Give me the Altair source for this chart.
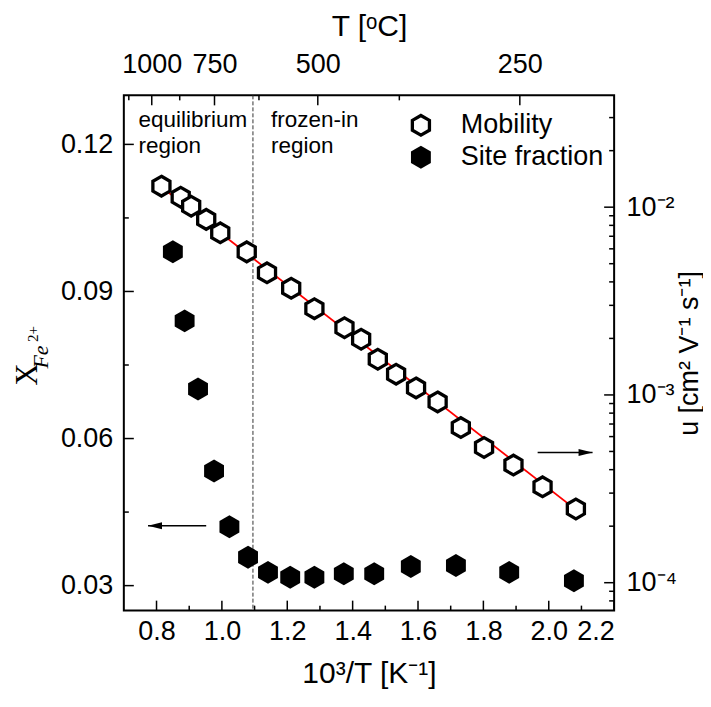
import altair as alt
import pandas as pd

FONT = "Liberation Sans"
SERIF = "Liberation Serif"
W, H = 491, 516

# ---- data ----
mob_x = [0.815, 0.874, 0.906, 0.952, 0.995, 1.076, 1.138, 1.212, 1.283, 1.375,
         1.426, 1.477, 1.533, 1.594, 1.660, 1.731, 1.802, 1.892, 1.981, 2.083]
mob_u = [0.01294, 0.01130, 0.01012, 0.00861, 0.00730, 0.00578, 0.00447, 0.00370,
         0.00288, 0.00228, 0.00198, 0.00155, 0.00129, 0.00109, 0.000918, 0.000670,
         0.000525, 0.000423, 0.000324, 0.000247]

sf_x = [0.850, 0.886, 0.927, 0.976, 1.023, 1.080, 1.141, 1.209, 1.283, 1.373,
        1.466, 1.578, 1.716, 1.879, 2.077]
sf_y = [0.0981, 0.0840, 0.0701, 0.0534, 0.0420, 0.0358, 0.0327, 0.0317, 0.0317,
        0.0324, 0.0324, 0.0339, 0.0341, 0.0327, 0.0310]

fit_x = [0.815, 2.083]
fit_u = [0.0128, 0.000245]

boundary_x = [1.095]

arrow_left_x = [0.952, 0.774]
arrow_left_y = 0.0422
arrow_right_x = [1.966, 2.134]
arrow_right_u = 4.93e-4

# tick labels / positions
x_major = [0.8, 1.0, 1.2, 1.4, 1.6, 1.8, 2.0, 2.2]
x_minor = [0.9, 1.1, 1.3, 1.5, 1.7, 1.9, 2.1]
yl_major = [0.03, 0.06, 0.09, 0.12]
yl_minor = [0.045, 0.075, 0.105]
yr_major = [1e-4, 1e-3, 1e-2]
yr_minor = [8e-5, 9e-5] + [m * 1e-4 for m in range(2, 10)] + \
           [m * 1e-3 for m in range(2, 10)] + [2e-2, 3e-2]
top_major_C = [1000, 750, 500, 250]
top_minor_C = [1125, 875, 625, 375]
top_major = [1000.0 / (t + 273.15) for t in top_major_C]
top_minor = [1000.0 / (t + 273.15) for t in top_minor_C]

HEX = "M0,-1L0.866,-0.5L0.866,0.5L0,1L-0.866,0.5L-0.866,-0.5Z"
ARROW_L = "M0,0L2,-0.5L2,0.5Z"
ARROW_R = "M0,0L-2,-0.5L-2,0.5Z"

xs = alt.Scale(domain=[0.7, 2.2], nice=False, zero=False)
yl = alt.Scale(domain=[0.0249, 0.130], nice=False, zero=False)
yr = alt.Scale(type="log", domain=[7.1e-5, 0.0394], nice=False)

one = pd.DataFrame({"a": [0]})

bottom_axis = alt.Axis(orient="bottom", values=x_major, format=".1f", ticks=False,
                       domain=False, grid=False, labelFontSize=27, labelPadding=8,
                       title="10³/T [K⁻¹]", titleFontSize=30, titleFontWeight="normal",
                       titlePadding=14)
left_axis = alt.Axis(orient="left", values=yl_major, format=".2f", ticks=False,
                     domain=False, grid=False, labelFontSize=27, labelPadding=11,
                     title=None)
right_axis = alt.Axis(orient="right", values=yr_major,
                      labelExpr="datum.value < 0.0005 ? '10⁻⁴' : (datum.value < 0.005 ? '10⁻³' : '10⁻²')",
                      ticks=False, domain=False, grid=False, labelFontSize=27,
                      labelPadding=12, title="u [cm² V⁻¹ s⁻¹]", titleFontSize=27,
                      titleFontWeight="normal", titleAngle=270, titleBaseline="top",
                      titlePadding=0)
top_axis = alt.Axis(orient="top", values=top_major,
                    labelExpr="format(round(1000/datum.value - 273.15), 'd')",
                    ticks=False, domain=False, grid=False, labelFontSize=27,
                    labelPadding=17, title="T [ᵒC]", titleFontSize=30,
                    titleFontWeight="normal", titlePadding=9)

layers = []

# fit line
layers.append(alt.Chart(pd.DataFrame({"x": fit_x, "u": fit_u})).mark_line(
    color="#ff0000", strokeWidth=1.8).encode(
    x=alt.X("x:Q", scale=xs, axis=None), y=alt.Y("u:Q", scale=yr, axis=None)))

# dashed boundary
layers.append(alt.Chart(pd.DataFrame({"x": boundary_x})).mark_rule(
    strokeDash=[4, 2], strokeWidth=1, color="#333333").encode(
    x=alt.X("x:Q", scale=xs, axis=None)))

# site fraction (left axis)
layers.append(alt.Chart(pd.DataFrame({"x": sf_x, "y": sf_y})).mark_point(
    shape=HEX, filled=True, color="black", size=529, opacity=1).encode(
    x=alt.X("x:Q", scale=xs, axis=bottom_axis),
    y=alt.Y("y:Q", scale=yl, axis=left_axis)))

# mobility (right axis)
layers.append(alt.Chart(pd.DataFrame({"x": mob_x, "u": mob_u})).mark_point(
    shape=HEX, filled=True, fill="white", stroke="black", strokeWidth=3.3,
    size=390, opacity=1).encode(
    x=alt.X("x:Q", scale=xs, axis=None),
    y=alt.Y("u:Q", scale=yr, axis=right_axis)))

# arrows
layers.append(alt.Chart(pd.DataFrame({"x": arrow_left_x, "y": [arrow_left_y] * 2})).mark_line(
    color="black", strokeWidth=1.5).encode(
    x=alt.X("x:Q", scale=xs, axis=None), y=alt.Y("y:Q", scale=yl, axis=None)))
layers.append(alt.Chart(pd.DataFrame({"x": [arrow_left_x[1]], "y": [arrow_left_y]})).mark_point(
    shape=ARROW_L, filled=True, color="black", size=196, opacity=1).encode(
    x=alt.X("x:Q", scale=xs, axis=None), y=alt.Y("y:Q", scale=yl, axis=None)))
layers.append(alt.Chart(pd.DataFrame({"x": arrow_right_x, "u": [arrow_right_u] * 2})).mark_line(
    color="black", strokeWidth=1.5).encode(
    x=alt.X("x:Q", scale=xs, axis=None), y=alt.Y("u:Q", scale=yr, axis=None)))
layers.append(alt.Chart(pd.DataFrame({"x": [arrow_right_x[1]], "u": [arrow_right_u]})).mark_point(
    shape=ARROW_R, filled=True, color="black", size=196, opacity=1).encode(
    x=alt.X("x:Q", scale=xs, axis=None), y=alt.Y("u:Q", scale=yr, axis=None)))


def xticks(vals, y0, y1, axis=None):
    return alt.Chart(pd.DataFrame({"v": vals})).mark_rule(color="black", strokeWidth=1.5).encode(
        x=alt.X("v:Q", scale=xs, axis=axis), y=alt.value(y0), y2=alt.value(y1))


def yticks(vals, scale, x0, x1):
    return alt.Chart(pd.DataFrame({"v": vals})).mark_rule(color="black", strokeWidth=1.5).encode(
        y=alt.Y("v:Q", scale=scale, axis=None), x=alt.value(x0), x2=alt.value(x1))


layers.append(xticks(x_major, H, H - 10))
layers.append(xticks(x_minor, H, H - 5))
layers.append(xticks(top_major, 0, 10, axis=top_axis))
layers.append(xticks(top_minor, 0, 5))
layers.append(yticks(yl_major, yl, 0, 10))
layers.append(yticks(yl_minor, yl, 0, 5))
layers.append(yticks(yr_major, yr, W, W - 10))
layers.append(yticks(yr_minor, yr, W, W - 5))


def txt(s, x, y, size, **kw):
    return alt.Chart(one).mark_text(text=s, fontSize=size, **kw).encode(
        x=alt.value(x), y=alt.value(y))


# region annotations
layers.append(txt("equilibrium", 14.8, 24.3, 22.5, align="left", baseline="middle"))
layers.append(txt("region", 14.8, 51, 22.5, align="left", baseline="middle"))
layers.append(txt("frozen-in", 147.5, 24.3, 22.5, align="left", baseline="middle"))
layers.append(txt("region", 147.5, 51, 22.5, align="left", baseline="middle"))

# legend
layers.append(alt.Chart(one).mark_point(shape=HEX, filled=True, fill="white", stroke="black",
                                        strokeWidth=3.3, size=390, opacity=1).encode(
    x=alt.value(297.5), y=alt.value(30)))
layers.append(alt.Chart(one).mark_point(shape=HEX, filled=True, color="black",
                                        size=529, opacity=1).encode(
    x=alt.value(297.5), y=alt.value(62)))
layers.append(txt("Mobility", 337.5, 30, 27, align="left", baseline="middle"))
layers.append(txt("Site fraction", 337.5, 62, 27, align="left", baseline="middle"))

# left axis title  X_{Fe^{2+}}
layers.append(txt("X", -96, 279.5, 31, align="center", baseline="middle", angle=270, font=SERIF))
layers.append(txt("Fe", -83, 262, 22, align="center", baseline="middle", angle=270,
                  font=SERIF, fontStyle="italic"))
layers.append(txt("2+", -90.5, 239, 15, align="center", baseline="middle", angle=270, font=SERIF))

chart = alt.layer(*layers).resolve_scale(y="independent").resolve_axis(
    x="independent", y="independent").properties(
    width=W, height=H, padding={"left": 4, "top": 3, "right": 0, "bottom": 0}
).configure_view(stroke="black", strokeWidth=2).configure_axis(
    labelFont=FONT, titleFont=FONT, labelColor="black", titleColor="black"
).configure_text(font=FONT, color="black")

chart.save("out.html", embed_options={"renderer": "svg", "actions": False})
